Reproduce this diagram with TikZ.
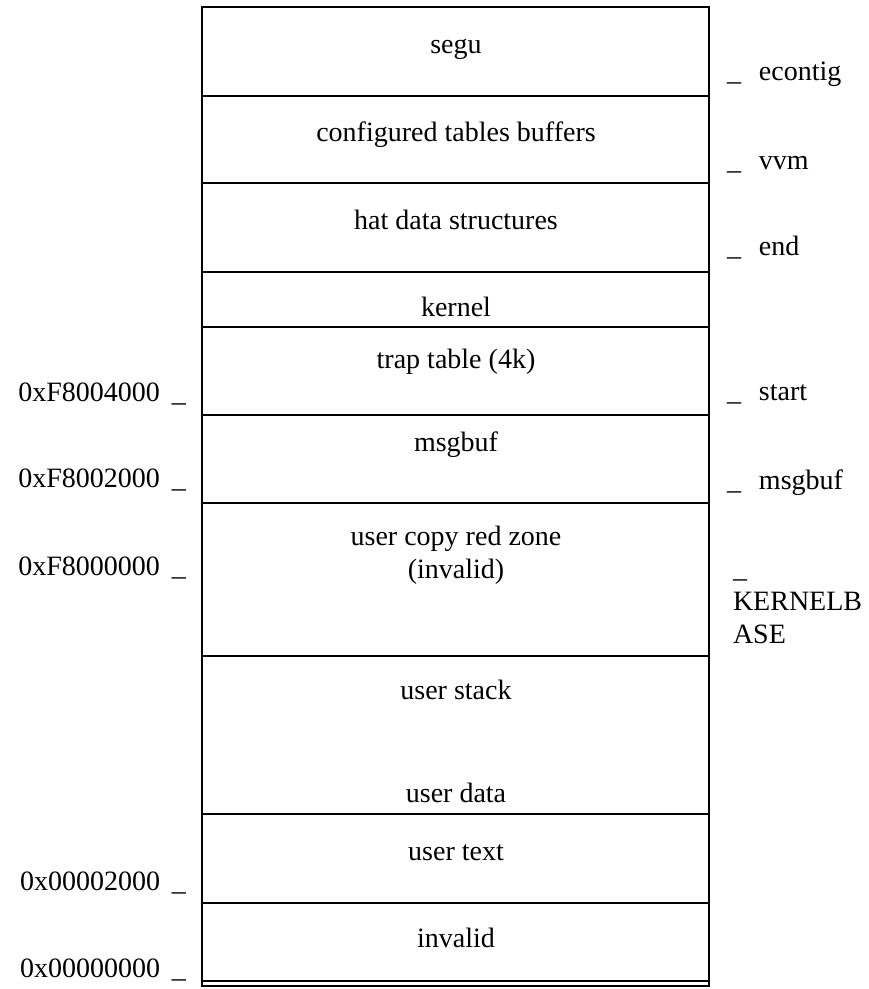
\documentclass[tikz,border=0pt]{standalone}
\usepackage{fontspec}
\setmainfont{Liberation Serif}
\begin{document}
\begin{tikzpicture}[x=0.5pt,y=-0.5pt,
  every node/.style={inner sep=0pt, outer sep=0pt, font=\fontsize{14}{16.5}\selectfont},
  boxline/.style={line width=1.25pt, line cap=rect},
  band/.style={anchor=base},
  leftlab/.style={anchor=base east},
  rightlab/.style={anchor=base west}]
\useasboundingbox (0,0) rectangle (868,989);
% outer frame and dividers
\draw[boxline] (202,7) rectangle (709,986);
\foreach \yy in {96,183,272,327,415,503,656,814,903,981}
  \draw[boxline] (202,\yy) -- (709,\yy);
% band labels
\node[band] (segu) at (456,54) {segu};
\node[band] (conf) at (456,142) {configured tables buffers};
\node[band] (hat) at (456,230) {hat data structures};
\node[band] (kern) at (456,317) {kernel};
\node[band] (trap) at (456,368) {trap table (4k)};
\node[band] (msg) at (456,451) {msgbuf};
\node[band] (red) at (456,545) {user copy red zone};
\node[band] (redinv) at (456,578) {(invalid)};
\node[band] (stack) at (456,699) {user stack};
\node[band] (udata) at (456,802) {user data};
\node[band] (utext) at (456,860) {user text};
\node[band] (inval) at (456,947) {invalid};
% left address labels
\node[leftlab] (a1) at (186,401) {0xF8004000\hspace{6pt}\_};
\node[leftlab] (a2) at (186,487) {0xF8002000\hspace{6pt}\_};
\node[leftlab] (a3) at (186,575) {0xF8000000\hspace{6pt}\_};
\node[leftlab] (a4) at (186,890) {0x00002000\hspace{6pt}\_};
\node[leftlab] (a5) at (186,977) {0x00000000\hspace{6pt}\_};
% right symbol labels
\node[rightlab] (s1) at (727,81) {\_\hspace{9pt}econtig};
\node[rightlab] (s2) at (727,170) {\_\hspace{9pt}vvm};
\node[rightlab] (s3) at (727,256) {\_\hspace{9pt}end};
\node[rightlab] (s4) at (727,400) {\_\hspace{9pt}start};
\node[rightlab] (s5) at (727,489) {\_\hspace{9pt}msgbuf};
\node[rightlab, align=left] (s6) at (733,643) {\_\\KERNELB\\ASE};
\end{tikzpicture}
\end{document}
